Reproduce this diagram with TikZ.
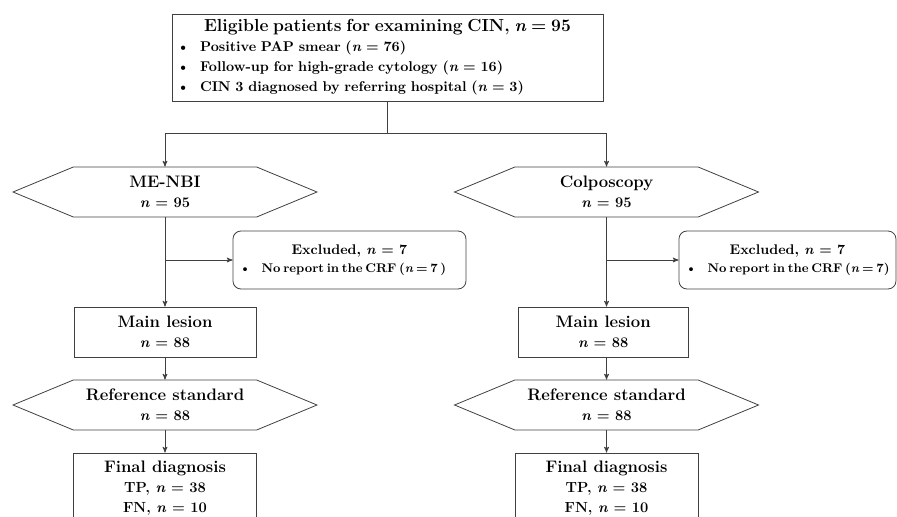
\documentclass[tikz,border=0pt]{standalone}
\usetikzlibrary{arrows,shapes}

\begin{document}
\begin{tikzpicture}[>=stealth',node distance=105pt,line width=0.6pt]
    \tikzstyle{topbox}=[rectangle,draw=black!75,text width=316pt,align=left,minimum width=323.25pt,minimum height=65.25pt,font=\bfseries\fontsize{10.6}{15}\selectfont]
    \tikzstyle{hexa}=[signal,signal to=west and east,signal pointer angle=45,draw=black!75,align=center,minimum width=228pt,minimum height=37.5pt,inner sep=1pt,font=\bfseries\fontsize{12.5}{15}\selectfont]
    \tikzstyle{lesion}=[rectangle,draw=black!75,align=center,minimum width=136.5pt,minimum height=37.5pt,font=\bfseries\fontsize{12.5}{15}\selectfont]
    \tikzstyle{excl}=[rectangle,rounded corners=6pt,draw=black!75,align=center,minimum height=43.5pt,inner sep=2pt,font=\bfseries\fontsize{10.5}{13.5}\selectfont]
    \tikzstyle{link}=[->,draw=black!75]
    \useasboundingbox (0,0) rectangle (672.75pt,-387.75pt);
    \clip (0,0) rectangle (672.75pt,-387.75pt);
    % top box
    \node[topbox] (eligible) at (290.6pt,-43.1pt)
        {{\centering\fontsize{13.1}{17}\selectfont Eligible patients for examining CIN, \textit{n} = 95\par}
         \textbullet\hspace{8pt}Positive PAP smear (\textit{n} = 76)\\
         \textbullet\hspace{8pt}Follow-up for high-grade cytology (\textit{n} = 16)\\
         \textbullet\hspace{8pt}CIN 3 diagnosed by referring hospital (\textit{n} = 3)};
    % left arm
    \node[hexa] (nbi) at (123.75pt,-144pt)
        {ME-NBI\\{\fontsize{11}{13}\selectfont\textit{n} = 95}};
    \node[lesion,below of=nbi] (lesionL)
        {Main lesion\\{\fontsize{11}{13}\selectfont\textit{n} = 88}};
    \node[hexa,below of=lesionL,node distance=54.75pt] (refL)
        {Reference standard\\{\fontsize{11}{13}\selectfont\textit{n} = 88}};
    \node[lesion,below of=refL,node distance=62.25pt,minimum height=52.5pt,minimum width=137.25pt] (finalL)
        {Final diagnosis\\{\fontsize{11}{15}\selectfont TP, \textit{n} = 38}\\{\fontsize{11}{13}\selectfont FN, \textit{n} = 10}};
    \node[excl,minimum width=174.75pt] (exclL) at (262.1pt,-195pt)
        {Excluded, \textit{n} = 7\\{\fontsize{9.4}{12}\selectfont\spaceskip=2pt\textbullet\hspace{8pt}No report in the CRF (\textit{n} = 7 )\hspace*{10pt}}};
    % right arm
    \node[hexa] (colpo) at (454.9pt,-144pt)
        {Colposcopy\\{\fontsize{11}{13}\selectfont\textit{n} = 95}};
    \node[lesion,below of=colpo,xshift=-2.5pt,minimum width=127.5pt] (lesionR)
        {Main lesion\\{\fontsize{11}{13}\selectfont\textit{n} = 88}};
    \node[hexa,below of=colpo,node distance=159.75pt] (refR)
        {Reference standard\\{\fontsize{11}{13}\selectfont\textit{n} = 88}};
    \node[lesion,below of=refR,node distance=62.25pt,minimum height=52.5pt,minimum width=137.25pt] (finalR)
        {Final diagnosis\\{\fontsize{11}{15}\selectfont TP, \textit{n} = 38}\\{\fontsize{11}{13}\selectfont FN, \textit{n} = 10}};
    \node[excl,minimum width=162.75pt] (exclR) at (590.6pt,-195pt)
        {Excluded, \textit{n} = 7\\{\fontsize{9.4}{12}\selectfont\spaceskip=2pt\textbullet\hspace{8pt}No report in the CRF (\textit{n} = 7)}};
    % connectors
    \coordinate (split) at (eligible.south |- 0,-99.75pt);
    \draw[draw=black!75] (eligible.south) -- (split);
    \draw[link] (split) -| (nbi.north);
    \draw[link] (split) -| (colpo.north);
    \coordinate (brL) at (nbi.south |- exclL.west);
    \coordinate (brR) at (colpo.south |- exclR.west);
    \draw[link] (nbi.south) -- (lesionL.north);
    \draw[link] (brL) -- (exclL.west);
    \draw[link] (lesionL.south) -- (refL.north);
    \draw[link] (refL.south) -- (finalL.north);
    \draw[link] (colpo.south) -- (colpo.south |- lesionR.north);
    \draw[link] (brR) -- (exclR.west);
    \draw[link] (lesionR.south -| colpo.south) -- (refR.north);
    \draw[link] (refR.south) -- (finalR.north);
\end{tikzpicture}
\end{document}
